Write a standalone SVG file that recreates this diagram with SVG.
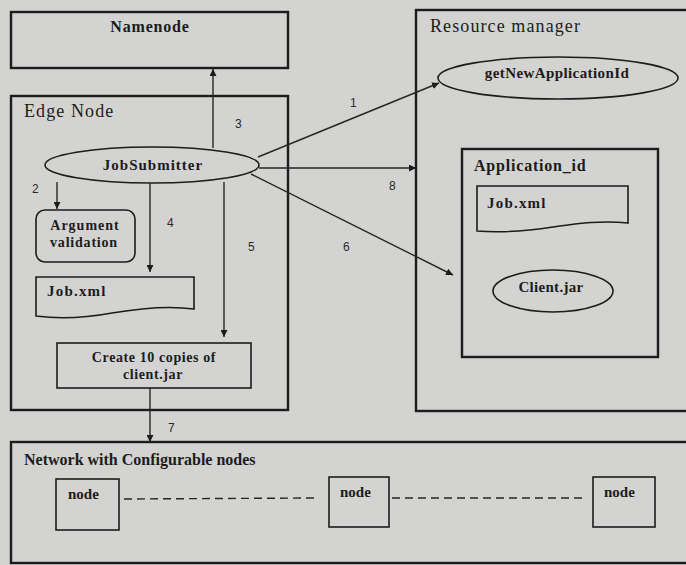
<svg xmlns="http://www.w3.org/2000/svg" width="686" height="565" viewBox="0 0 686 565">
  <defs>
    <marker id="arrow" viewBox="0 0 10 10" refX="10" refY="5" markerWidth="7" markerHeight="7" markerUnits="userSpaceOnUse" orient="auto">
      <path d="M0,0 L10,5 L0,10 Z" fill="#1c1c1c"/>
    </marker>
  </defs>
  <style>
    .box { fill: none; stroke: #1c1c1c; stroke-width: 2.4; }
    .inner { fill: none; stroke: #1c1c1c; stroke-width: 1.6; }
    .edge { fill: none; stroke: #262626; stroke-width: 1.4; marker-end: url(#arrow); }
    .dash { fill: none; stroke: #262626; stroke-width: 1.4; stroke-dasharray: 8 5; }
    text.t { font-family: 'Liberation Serif', 'Times New Roman', Times, 'DejaVu Serif', serif; fill: #1c1c1c; }
    .b { font-weight: bold; }
    .title { font-size: 18px; letter-spacing: 1.1px; }
    text.num { font-family: 'Liberation Sans', Arial, sans-serif; font-size: 12px; fill: #2a2a2a; }
  </style>

  <rect width="686" height="565" fill="#d3d3d1"/>

  <!-- Namenode -->
  <g id="namenode">
    <rect class="box" x="11" y="12" width="277" height="56"/>
    <text class="t b" x="150" y="32" font-size="16" letter-spacing="0.8" text-anchor="middle">Namenode</text>
  </g>

  <!-- Edge node with its contents -->
  <g id="edge-node">
    <rect class="box" x="11" y="96" width="277" height="314"/>
    <text class="t title" x="24" y="117">Edge Node</text>
  </g>
  <g id="job-submitter">
    <ellipse class="inner" cx="152" cy="165" rx="107" ry="18"/>
    <text class="t b" x="153" y="170" font-size="15" letter-spacing="1" text-anchor="middle">JobSubmitter</text>
  </g>
  <g id="argument-validation">
    <rect class="inner" x="36" y="210" width="99" height="52" rx="9"/>
    <text class="t b" x="85" y="230" font-size="14" letter-spacing="1" text-anchor="middle">Argument</text>
    <text class="t b" x="84" y="247" font-size="14" letter-spacing="0.8" text-anchor="middle">validation</text>
  </g>
  <g id="edge-job-xml">
    <path class="inner" d="M36,277 H194 V309 C165,305 135,309 112,313 C85,318 58,319 36,316 Z"/>
    <text class="t b" x="47" y="296" font-size="15" letter-spacing="1.2">Job.xml</text>
  </g>
  <g id="create-copies">
    <rect class="inner" x="57" y="343" width="194" height="45"/>
    <text class="t b" x="154" y="362" font-size="14" letter-spacing="0.6" text-anchor="middle">Create 10 copies of</text>
    <text class="t b" x="153" y="379" font-size="14" letter-spacing="0.6" text-anchor="middle">client.jar</text>
  </g>

  <!-- Resource manager with its contents -->
  <g id="resource-manager">
    <rect class="box" x="416" y="10" width="290" height="401"/>
    <text class="t title" x="430" y="32" letter-spacing="1.2">Resource manager</text>
  </g>
  <g id="get-new-application-id">
    <ellipse class="inner" cx="558" cy="78" rx="120" ry="21"/>
    <text class="t b" x="557" y="78" font-size="15" letter-spacing="0.4" text-anchor="middle">getNewApplicationId</text>
  </g>
  <g id="application-id">
    <rect class="box" x="462" y="149" width="196" height="208"/>
    <text class="t b" x="474" y="171" font-size="16" letter-spacing="0.8">Application_id</text>
  </g>
  <g id="rm-job-xml">
    <path class="inner" d="M477,186 H628 V223 C600,220 575,224 553,227 C527,231 500,233 477,231 Z"/>
    <text class="t b" x="487" y="208" font-size="15" letter-spacing="1.2">Job.xml</text>
  </g>
  <g id="client-jar">
    <ellipse class="inner" cx="553" cy="291" rx="60" ry="21"/>
    <text class="t b" x="551" y="292" font-size="15" letter-spacing="0.3" text-anchor="middle">Client.jar</text>
  </g>

  <!-- Network of configurable nodes -->
  <g id="network">
    <rect class="box" x="11" y="442" width="700" height="121"/>
    <text class="t b" x="24" y="465" font-size="16">Network with Configurable nodes</text>
  </g>
  <g id="node-1">
    <rect class="inner" x="56" y="479" width="63" height="51"/>
    <text class="t b" x="68" y="499" font-size="15">node</text>
  </g>
  <g id="node-2">
    <rect class="inner" x="329" y="477" width="60" height="50"/>
    <text class="t b" x="340" y="497" font-size="15">node</text>
  </g>
  <g id="node-3">
    <rect class="inner" x="593" y="477" width="62" height="50"/>
    <text class="t b" x="604" y="497" font-size="15">node</text>
  </g>

  <!-- Connectors -->
  <g id="connectors">
    <line class="edge" x1="258" y1="157" x2="439" y2="83"/>
    <line class="edge" x1="57" y1="182" x2="57" y2="209"/>
    <line class="edge" x1="213" y1="148" x2="213" y2="69"/>
    <line class="edge" x1="150" y1="183" x2="150" y2="272"/>
    <line class="edge" x1="224" y1="182" x2="224" y2="337"/>
    <line class="edge" x1="251" y1="174" x2="453" y2="275"/>
    <line class="edge" x1="150" y1="388" x2="150" y2="442"/>
    <line class="edge" x1="259" y1="168" x2="416" y2="168"/>
    <line class="dash" x1="124" y1="499" x2="314" y2="498"/>
    <line class="dash" x1="392" y1="498" x2="584" y2="498"/>
  </g>

  <!-- Step numbers -->
  <g id="step-labels">
    <text class="num" x="350" y="107">1</text>
    <text class="num" x="32" y="193">2</text>
    <text class="num" x="235" y="128">3</text>
    <text class="num" x="167" y="227">4</text>
    <text class="num" x="248" y="251">5</text>
    <text class="num" x="343" y="251">6</text>
    <text class="num" x="168" y="432">7</text>
    <text class="num" x="389" y="190">8</text>
  </g>
</svg>
